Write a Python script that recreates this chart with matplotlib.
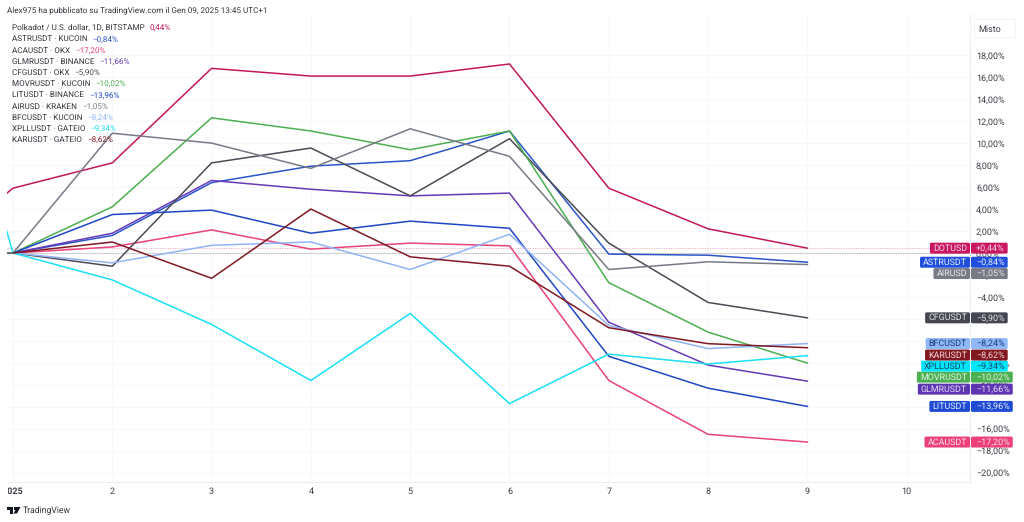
import matplotlib
matplotlib.use("Agg")
import matplotlib.pyplot as plt
from matplotlib.patches import Rectangle, Polygon, BoxStyle
from matplotlib.transforms import Bbox, TransformedBbox, IdentityTransform

days = [1, 2, 3, 4, 5, 6, 7, 8, 9]
x_tick_pos = [1, 2, 3, 4, 5, 6, 7, 8, 9, 10]
x_tick_labels = ["2025", "2", "3", "4", "5", "6", "7", "8", "9", "10"]
y_ticks = list(range(-20, 20, 2))

symbols = ["DOTUSD", "ASTRUSDT", "ACAUSDT", "GLMRUSDT", "CFGUSDT", "MOVRUSDT",
           "LITUSDT", "AIRUSD", "BFCUSDT", "XPLLUSDT", "KARUSDT"]
legend_names = ["Polkadot / U.S. dollar, 1D, BITSTAMP", "ASTRUSDT · KUCOIN", "ACAUSDT · OKX",
                "GLMRUSDT · BINANCE", "CFGUSDT · OKX", "MOVRUSDT · KUCOIN", "LITUSDT · BINANCE",
                "AIRUSD · KRAKEN", "BFCUSDT · KUCOIN", "XPLLUSDT · GATEIO", "KARUSDT · GATEIO"]

dot = [5.9, 8.2, 16.8, 16.1, 16.1, 17.2, 5.9, 2.2, 0.44]
astr = [0, 1.6, 6.4, 7.9, 8.4, 11.1, -0.1, -0.2, -0.84]
aca = [0, 0.55, 2.1, 0.35, 0.9, 0.65, -11.6, -16.5, -17.2]
glmr = [0, 1.8, 6.6, 5.8, 5.2, 5.45, -6.3, -10.2, -11.66]
cfg = [0, -1.2, 8.2, 9.55, 5.2, 10.4, 0.9, -4.5, -5.9]
movr = [0, 4.2, 12.3, 11.1, 9.4, 11.1, -2.7, -7.2, -10.02]
lit = [0, 3.5, 3.9, 1.8, 2.9, 2.25, -9.4, -12.3, -13.96]
air = [0, 10.9, 10.0, 7.7, 11.3, 8.8, -1.5, -0.8, -1.05]
bfc = [0, -0.9, 0.7, 1.0, -1.5, 1.7, -6.6, -8.7, -8.24]
xpl = [0, -2.45, -6.5, -11.6, -5.5, -13.7, -9.2, -10.1, -9.34]
kar = [0, 1.0, -2.3, 4.0, -0.35, -1.2, -6.8, -8.25, -8.62]
series = [dot, astr, aca, glmr, cfg, movr, lit, air, bfc, xpl, kar]

# the close before the first day, only visible as a stub at the left edge
prior_day = {0: -1.6, 4: 0.0, 9: 31.6}

colors = ["#c2185b", "#2b55c9", "#e8437a", "#673ab7", "#4a4c55", "#4caf50",
          "#1f47c4", "#787b86", "#90b4f5", "#19e0f5", "#801922"]
pill_bg = ["#c9185f", "#1f4fdc", "#ec407a", "#5e35b1", "#434651", "#4caf50",
           "#1e4bd2", "#787b86", "#90b8f8", "#00e5ff", "#801922"]
pill_fg = ["#f8d5e2", "#e6ecff", "#fbdbe6", "#e6dcf6", "#e4e4e8", "#e3f4e4",
           "#e6ecff", "#e8e8ec", "#1c3a78", "#0b4a66", "#f5d7da"]
# pixel nudge that keeps stacked price labels from colliding
pill_nudge = [0, 0, 0, -8, 0, -14, 0, -9, 0, -10.5, -7.3]

W, H = 1024, 522
PX_LEFT, PX_RIGHT, PX_TOP, PX_BOT = 7, 970, 14, 482
PX_DAY1, PX_PER_DAY = 13.0, 99.3
PX_ZERO, PX_PER_PCT = 253.0, 10.99

plt.rcParams["font.family"] = ["Roboto", "DejaVu Sans"]
plt.rcParams["text.hinting"] = "no_hinting"
FS_TICK = 6.5
FS_LEG = 5.85
FS_NAME = 6.4
fig = plt.figure(figsize=(W / 100, H / 100), dpi=100, facecolor="white")
ax = fig.add_axes([PX_LEFT / W, 1 - PX_BOT / H, (PX_RIGHT - PX_LEFT) / W, (PX_BOT - PX_TOP) / H])
ax.set_xlim(1 + (PX_LEFT - PX_DAY1) / PX_PER_DAY, 1 + (PX_RIGHT - PX_DAY1) / PX_PER_DAY)
ax.set_ylim((PX_ZERO - PX_BOT) / PX_PER_PCT, (PX_ZERO - PX_TOP) / PX_PER_PCT)


def pct(v, plus=False):
    s = f"{abs(v):.2f}".replace(".", ",") + "%"
    if v < 0:
        return "\u2212" + s
    return ("+" + s) if plus else s


def pill(left, right, vert=1.2, radius=1.5):
    """Box style with separate horizontal and vertical padding, in pixels."""
    base = BoxStyle.Round(pad=0, rounding_size=radius)

    def style(x0, y0, w, h, mutation_size):
        return base(x0 - left, y0 - vert, w + left + right, h + 2 * vert, 1.0)

    return style


ax.yaxis.tick_right()
ax.set_yticks(y_ticks)
ax.set_yticklabels([pct(v) for v in y_ticks])
ax.set_xticks(x_tick_pos)
ax.set_xticklabels(x_tick_labels)
ax.tick_params(axis="both", length=0, labelsize=FS_TICK, labelcolor="#3a3d45")
ax.tick_params(axis="y", pad=4.3)
ax.tick_params(axis="x", pad=3.5)
ax.grid(True, color="#f8f8fa", lw=0.8)
ax.set_axisbelow(True)
for side in ("top", "left"):
    ax.spines[side].set_visible(False)
for side in ("right", "bottom"):
    ax.spines[side].set_color("#eceef2")
    ax.spines[side].set_linewidth(0.8)

# the bold year label is cut off at the pane's left edge
year = ax.get_xticklabels()[0]
year.set_fontweight("bold")
year.set_clip_box(TransformedBbox(Bbox([[PX_LEFT + 1, 0], [W, H]]), IdentityTransform()))
year.set_clip_on(True)

ax.axhline(0, color="#cfd1d6", lw=0.8, zorder=1.6)
ax.axhline(dot[-1], color="#e8a0bb", lw=0.7, ls=(0, (1, 1.5)), zorder=1.6)

for i, vals in enumerate(series):
    xs, ys = list(days), list(vals)
    if i in prior_day:
        xs = [0] + xs
        ys = [prior_day[i]] + ys
    ax.plot(xs, ys, color=colors[i], lw=1.1, solid_joinstyle="miter", zorder=2)

# price labels on the right scale
draw_order = [2, 6, 3, 5, 9, 10, 8, 4, 7, 1, 0]
for i in draw_order:
    y = series[i][-1]
    kw = dict(xycoords=("axes fraction", "data"), textcoords="offset pixels", va="center",
              color=pill_fg[i], zorder=6, annotation_clip=False)
    ax.annotate(pct(y, plus=True), xy=(1, y), xytext=(6, pill_nudge[i]), ha="left", fontsize=FS_TICK,
                bbox=dict(boxstyle=pill(5, 3), fc=pill_bg[i], ec="none"), **kw)
    ax.annotate(symbols[i], xy=(1, y), xytext=(-3, pill_nudge[i]), ha="right", fontsize=FS_NAME,
                bbox=dict(boxstyle=pill(3, 3), fc=pill_bg[i], ec="none"), **kw)

# legend block
LEG_TOP, LEG_STEP = 28.0, 11.2
for i, name in enumerate(legend_names):
    py = LEG_TOP + i * LEG_STEP
    t = fig.text(12 / W, 1 - py / H, name, fontsize=FS_LEG, color="#33353c", va="center", ha="left", zorder=8)
    ax.annotate(pct(series[i][-1]), xy=(1, 0.5), xycoords=t, xytext=(5, 0), textcoords="offset pixels",
                va="center", ha="left", fontsize=FS_LEG, color=colors[i], zorder=8, annotation_clip=False)

fig.text(7 / W, 1 - 10 / H, "Alex975 ha pubblicato su TradingView.com il Gen 09, 2025 13:45 UTC+1",
         fontsize=FS_LEG, color="#33353c", va="center", ha="left")

# "Misto" scale-mode box
fig.add_artist(Rectangle((974 / W, 1 - 37 / H), 41 / W, 18 / H, transform=fig.transFigure,
                         fc="white", ec="#f3f3f5", lw=0.6))
fig.text(978 / W, 1 - 29 / H, "Misto", fontsize=FS_TICK, color="#3a3d45", va="center", ha="left")


# TradingView footer mark
def fx(p):
    return p / W


def fy(p):
    return 1 - p / H


logo = "#131722"
fig.add_artist(Polygon([(fx(7), fy(507)), (fx(13), fy(507)), (fx(13), fy(513.5)), (fx(10), fy(513.5)),
                        (fx(10), fy(510)), (fx(7), fy(510))], closed=True, fc=logo, ec="none",
                       transform=fig.transFigure))
fig.add_artist(Polygon([(fx(17), fy(507)), (fx(20.5), fy(507)), (fx(17), fy(513.5)), (fx(13.5), fy(513.5))],
                       closed=True, fc=logo, ec="none", transform=fig.transFigure))
fig.add_artist(Rectangle((fx(13.6), fy(510)), 3 / W, 3 / H, fc=logo, ec="none", transform=fig.transFigure))
fig.text(23 / W, 1 - 511 / H, "TradingView", fontsize=6.2, color="#33353c", va="center", ha="left")

fig.savefig("out.png", dpi=100)
